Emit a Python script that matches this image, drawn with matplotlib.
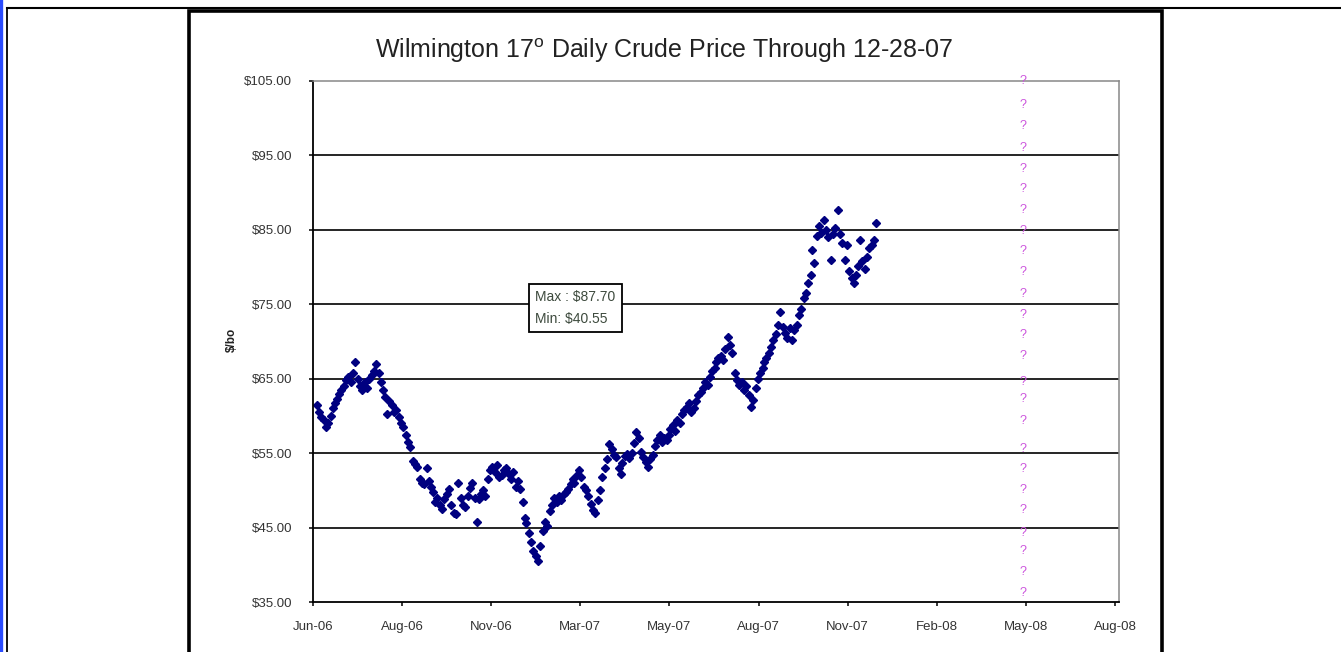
import pandas as pd
import numpy as np
import matplotlib
matplotlib.use('Agg')
import matplotlib.pyplot as plt
import matplotlib.dates as mdates
from matplotlib.lines import Line2D
from matplotlib.patches import Rectangle
from matplotlib.ticker import FuncFormatter

plt.rcParams['font.family'] = ['Liberation Sans', 'DejaVu Sans']
plt.rcParams['mathtext.fontset'] = 'custom'
plt.rcParams['mathtext.rm'] = 'Liberation Sans'

# ---- data: Mon / Wed / Fri prices per week ($/bo) ----
prices_2006 = [  # weeks starting Mon Jun 5 .. Mon Dec 25 2006
    [61.5, 60.5, 59.8], [59.5, 58.5, 59.0], [60.0, 61.0, 61.8], [62.3, 63.0, 63.5],
    [64.0, 64.8, 65.2], [64.5, 65.8, 67.2], [65.0, 64.0, 63.5], [64.5, 63.8, 65.0],
    [65.5, 66.0, 67.0], [65.8, 64.5, 63.5], [62.5, 60.2, 62.0], [61.5, 60.5, 60.8],
    [59.8, 59.0, 58.5], [57.5, 56.5, 55.8], [54.0, 53.5, 53.2], [51.5, 51.0, 50.8],
    [53.0, 51.2, 50.5], [49.8, 48.5, 49.0], [48.0, 47.5, 48.8], [49.5, 50.2, 48.0],
    [47.0, 46.8, 51.0], [49.0, 48.0, 47.8], [49.2, 50.3, 51.0], [49.0, 45.7, 48.8],
    [49.5, 50.0, 49.2], [51.5, 52.8, 53.2], [52.5, 53.4, 51.8], [52.0, 52.8, 53.0],
    [52.2, 51.5, 52.5], [50.5, 51.2, 50.2],
]
prices_2007 = [  # weeks starting Mon Jan 1 .. Mon Dec 24 2007
    [48.4, 46.3, 45.6], [44.3, 43.0, 41.8], [41.2, 40.55, 42.5], [44.5, 45.8, 45.2],
    [47.2, 48.0, 49.0], [48.5, 49.2, 48.7], [49.5, 49.8, 50.2], [50.8, 51.5, 51.0],
    [52.0, 52.7, 51.8], [50.5, 50.0, 49.2], [48.2, 47.3, 47.0], [48.7, 50.0, 51.8],
    [53.0, 54.2, 56.2], [55.5, 54.8, 54.5], [53.0, 52.2, 53.7], [54.6, 54.9, 54.3],
    [55.0, 56.4, 57.8], [57.0, 55.2, 54.5], [53.8, 53.2, 54.2], [54.8, 56.0, 56.8],
    [57.5, 56.5, 57.0], [56.8, 57.5, 58.3], [58.8, 58.0, 59.4], [59.0, 60.2, 60.8],
    [61.2, 61.7, 60.5], [61.0, 62.0, 62.8], [63.2, 63.8, 64.6], [64.2, 65.2, 66.0],
    [66.5, 67.3, 67.8], [68.0, 67.5, 69.0], [70.6, 69.5, 68.5], [65.8, 64.8, 64.2],
    [64.5, 63.5, 64.0], [62.8, 61.2, 62.2], [63.8, 65.0, 65.8], [66.5, 67.2, 67.8],
    [68.5, 69.3, 70.2], [71.0, 72.2, 74.0], [72.0, 71.2, 70.5], [71.8, 70.2, 71.5],
    [72.2, 73.5, 74.3], [75.8, 76.5, 77.8], [79.0, 82.3, 80.5], [84.2, 85.5, 84.6],
    [86.3, 85.0, 84.0], [81.0, 84.5, 85.2], [87.7, 84.5, 83.2], [81.0, 83.0, 79.5],
    [78.5, 77.8, 79.0], [80.2, 83.6, 80.8], [79.8, 81.4, 82.5], [83.0, 83.6, 85.9],
]
week_starts = pd.date_range('2006-06-05', '2007-12-24', freq='W-MON')
day_offsets = [0, 2, 4]

qmark_date = pd.Timestamp('2008-05-26')
qmark_vals = [105.0, 101.8, 99.0, 96.0, 93.2, 90.5, 87.7, 84.9, 82.2, 79.4, 76.4,
              73.6, 70.9, 68.1, 64.6, 62.3, 59.3, 55.6, 52.9, 50.1, 47.3, 44.3,
              41.8, 39.0, 36.2]

x_start = pd.Timestamp('2006-06-01')
tick_step = 91
y_ticks = [35, 45, 55, 65, 75, 85, 95, 105]

weeks = prices_2006 + prices_2007
dates = [w + pd.Timedelta(days=d) for w in week_starts for d in day_offsets]
prices = [p for wk in weeks for p in wk]

# ---- figure ----
W, H = 1341, 652
fig = plt.figure(figsize=(W / 100, H / 100), dpi=100)
px = lambda x: x / W
py = lambda y: 1 - y / H

# outer table lines
fig.add_artist(Line2D([px(1.2), px(1.2)], [0, 1], color='#2b4cff', lw=2.4))
fig.add_artist(Line2D([px(7), px(1341)], [py(7.5), py(7.5)], color='black', lw=1.5))
fig.add_artist(Line2D([px(7), px(7)], [py(7.5), 0], color='black', lw=1.3))
# chart frame
fig.add_artist(Rectangle((px(189), py(700)), px(1162) - px(189), py(11) - py(700),
                         transform=fig.transFigure, fill=False, ec='black', lw=2.6))

ax = fig.add_axes([px(313), py(602), px(1119) - px(313), py(81) - py(602)])
ax.plot(dates, prices, ls='none', marker='D', ms=4, color='#000080', mec='#000080')

for v in qmark_vals:
    ax.text(qmark_date, v, '?', color='#cc55dd', fontsize=9, ha='center', va='center')

for yv in y_ticks[1:-1]:
    ax.axhline(yv, color='black', lw=1.2, zorder=0)

ax.set_ylim(35, 105)
ax.set_xlim(x_start, x_start + pd.Timedelta(days=823))
ax.set_yticks(y_ticks)
ax.yaxis.set_major_formatter(FuncFormatter(lambda v, p: '\\$%.2f' % v))
ax.set_xticks([x_start + pd.Timedelta(days=tick_step * k) for k in range(10)])
ax.xaxis.set_major_formatter(mdates.DateFormatter('%b-%y'))

ax.tick_params(axis='both', direction='out', length=3, width=1.1, color='black',
               labelsize=9.5, labelcolor='#333333')
ax.tick_params(axis='y', pad=12)
ax.tick_params(axis='x', pad=11)
for s in ['left', 'bottom']:
    ax.spines[s].set_color('black')
    ax.spines[s].set_linewidth(1.3)
for s in ['top', 'right']:
    ax.spines[s].set_color('#888888')
    ax.spines[s].set_linewidth(1.1)

fig.text(px(664), py(58), 'Wilmington 17$^{\\mathrm{o}}$ Daily Crude Price Through 12-28-07',
         fontsize=18, ha='center', va='baseline', color='#222222')
fig.text(px(232), py(340), '\\$/bo', rotation=90, fontsize=8.5, fontweight='bold',
         ha='center', va='center', color='#222222')
fig.text(px(535), py(308), 'Max : \\$87.70\nMin: \\$40.55', fontsize=10, color='#3d4a3d',
         ha='left', va='center', linespacing=1.75,
         bbox=dict(boxstyle='square,pad=0.45', fc='white', ec='black', lw=1.3))

fig.savefig('out.png', dpi=100)
